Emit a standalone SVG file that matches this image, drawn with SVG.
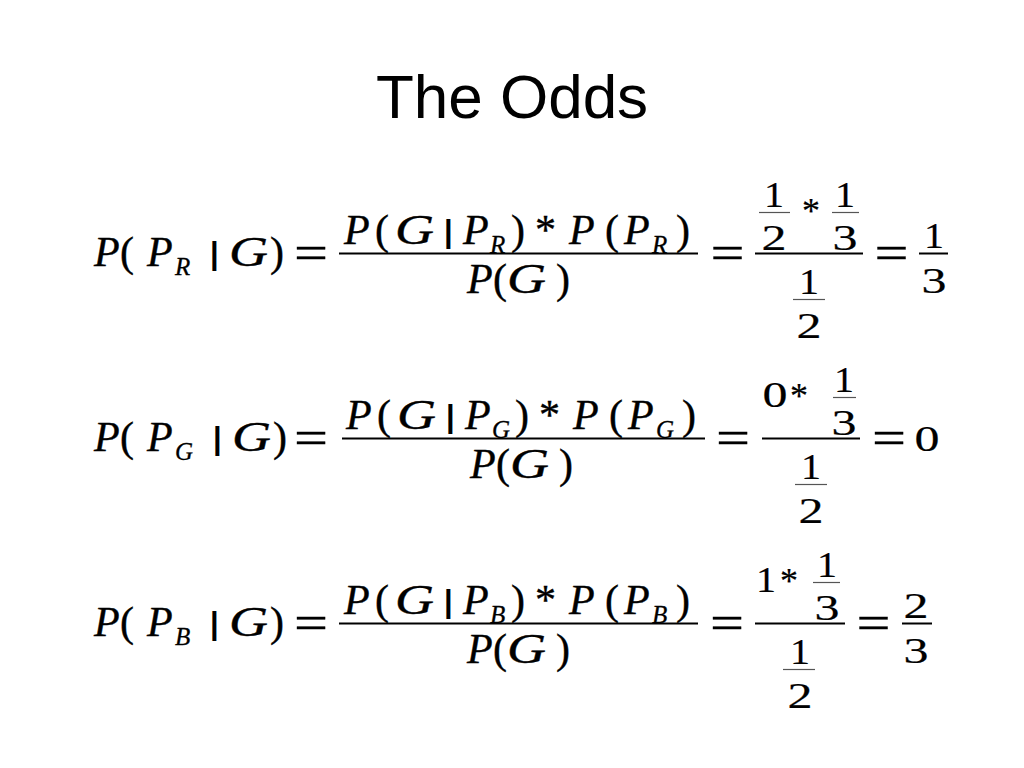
<svg xmlns="http://www.w3.org/2000/svg" width="1024" height="768" viewBox="0 0 1024 768">
<style>
.t{font-family:"Liberation Sans",Arial,sans-serif;font-size:62px;fill:#000}
.i{font-family:"Liberation Serif","Times New Roman",serif;font-style:italic;font-size:42px;fill:#000;stroke:#000;stroke-width:0.4}
.u{font-family:"Liberation Serif","Times New Roman",serif;font-size:42px;fill:#000;stroke:#000;stroke-width:0.4}
.s{font-family:"Liberation Serif","Times New Roman",serif;font-style:italic;font-size:25px;fill:#000;stroke:#000;stroke-width:0.3}
.bar{font-family:"Liberation Sans",Arial,sans-serif;font-size:31px;font-weight:bold;fill:#000}
.d{font-family:"Liberation Serif","Times New Roman",serif;font-size:36px;text-anchor:middle;fill:#000;stroke:#000;stroke-width:0.2}
.e{font-family:"Liberation Serif","Times New Roman",serif;font-size:48px;text-anchor:middle;fill:#000;stroke:#000;stroke-width:0.3}
.m{stroke:#000;stroke-width:2}
.f{stroke:#555;stroke-width:1.2}
</style>
<rect width="1024" height="768" fill="#fff"/>
<text class="t" x="512" y="118" text-anchor="middle">The Odds</text>

<g id="eq-red" transform="translate(0,253.5)">
  <text class="i" x="94" y="12">P</text><text class="u" x="120" y="12">(</text><text class="i" x="147" y="12">P</text><text class="s" x="175" y="21">R</text><text class="bar" x="210" y="10">|</text><text class="i" x="229" y="12" textLength="39" lengthAdjust="spacingAndGlyphs">G</text><text class="u" x="270" y="12">)</text>
  <text class="e" x="311" y="15" textLength="34" lengthAdjust="spacingAndGlyphs">=</text>
  <text class="i" x="344" y="-10">P</text><text class="u" x="375" y="-10">(</text><text class="i" x="395" y="-10" textLength="39" lengthAdjust="spacingAndGlyphs">G</text><text class="bar" x="444" y="-12">|</text><text class="i" x="463" y="-10">P</text><text class="s" x="490" y="-1">R</text><text class="u" x="511" y="-10">)</text><text class="u" x="535" y="-10">*</text><text class="i" x="569" y="-10">P</text><text class="u" x="605" y="-10">(</text><text class="i" x="624" y="-10">P</text><text class="s" x="652" y="-1">R</text><text class="u" x="676" y="-10">)</text>
  <line class="m" x1="339" y1="0" x2="698" y2="0"/>
  <text class="i" x="467" y="39.5">P</text><text class="u" x="493" y="39.5">(</text><text class="i" x="507" y="39.5" textLength="39" lengthAdjust="spacingAndGlyphs">G</text><text class="u" x="556" y="39.5">)</text>
  <text class="e" x="727.5" y="15" textLength="34" lengthAdjust="spacingAndGlyphs">=</text>
  <text class="d" x="774" y="-47" textLength="20" lengthAdjust="spacingAndGlyphs">1</text><line class="f" x1="759" y1="-41" x2="790" y2="-41"/><text class="d" x="774" y="-4" textLength="25" lengthAdjust="spacingAndGlyphs">2</text>
  <text class="d" x="811" y="-31">*</text>
  <text class="d" x="845" y="-47" textLength="20" lengthAdjust="spacingAndGlyphs">1</text><line class="f" x1="832" y1="-41" x2="859" y2="-41"/><text class="d" x="845" y="-4" textLength="25" lengthAdjust="spacingAndGlyphs">3</text>
  <line class="m" x1="755" y1="0" x2="863" y2="0"/>
  <text class="d" x="809" y="40" textLength="20" lengthAdjust="spacingAndGlyphs">1</text><line class="f" x1="793" y1="46" x2="825" y2="46"/><text class="d" x="809" y="84" textLength="25" lengthAdjust="spacingAndGlyphs">2</text>
  <text class="e" x="891.5" y="15" textLength="34" lengthAdjust="spacingAndGlyphs">=</text>
  <text class="d" x="934" y="-6" textLength="20" lengthAdjust="spacingAndGlyphs">1</text><line class="m" x1="919" y1="0" x2="948" y2="0"/><text class="d" x="934" y="39" textLength="25" lengthAdjust="spacingAndGlyphs">3</text>
</g>

<g id="eq-green" transform="translate(0,438.5)">
  <text class="i" x="94" y="12">P</text><text class="u" x="120" y="12">(</text><text class="i" x="147" y="12">P</text><text class="s" x="175" y="21">G</text><text class="bar" x="213" y="10">|</text><text class="i" x="232" y="12" textLength="39" lengthAdjust="spacingAndGlyphs">G</text><text class="u" x="273" y="12">)</text>
  <text class="e" x="311" y="15" textLength="34" lengthAdjust="spacingAndGlyphs">=</text>
  <text class="i" x="346" y="-10">P</text><text class="u" x="377" y="-10">(</text><text class="i" x="397" y="-10" textLength="39" lengthAdjust="spacingAndGlyphs">G</text><text class="bar" x="446" y="-12">|</text><text class="i" x="465" y="-10">P</text><text class="s" x="492" y="-1">G</text><text class="u" x="515" y="-10">)</text><text class="u" x="539" y="-10">*</text><text class="i" x="573" y="-10">P</text><text class="u" x="609" y="-10">(</text><text class="i" x="628" y="-10">P</text><text class="s" x="656" y="-1">G</text><text class="u" x="682" y="-10">)</text>
  <line class="m" x1="342" y1="0" x2="705" y2="0"/>
  <text class="i" x="470" y="39.5">P</text><text class="u" x="496" y="39.5">(</text><text class="i" x="510" y="39.5" textLength="39" lengthAdjust="spacingAndGlyphs">G</text><text class="u" x="559" y="39.5">)</text>
  <text class="e" x="733" y="15" textLength="34" lengthAdjust="spacingAndGlyphs">=</text>
  <text class="d" x="775" y="-32" textLength="25" lengthAdjust="spacingAndGlyphs">0</text>
  <text class="d" x="799" y="-31">*</text>
  <text class="d" x="844" y="-47" textLength="20" lengthAdjust="spacingAndGlyphs">1</text><line class="f" x1="833" y1="-41" x2="856" y2="-41"/><text class="d" x="844" y="-4" textLength="25" lengthAdjust="spacingAndGlyphs">3</text>
  <line class="m" x1="762" y1="0" x2="860" y2="0"/>
  <text class="d" x="811" y="40" textLength="20" lengthAdjust="spacingAndGlyphs">1</text><line class="f" x1="795" y1="46" x2="827" y2="46"/><text class="d" x="811" y="84" textLength="25" lengthAdjust="spacingAndGlyphs">2</text>
  <text class="e" x="889" y="15" textLength="34" lengthAdjust="spacingAndGlyphs">=</text>
  <text class="d" x="927" y="12" textLength="25" lengthAdjust="spacingAndGlyphs">0</text>
</g>

<g id="eq-blue" transform="translate(0,623.5)">
  <text class="i" x="94" y="12">P</text><text class="u" x="120" y="12">(</text><text class="i" x="147" y="12">P</text><text class="s" x="175" y="21">B</text><text class="bar" x="210" y="10">|</text><text class="i" x="229" y="12" textLength="39" lengthAdjust="spacingAndGlyphs">G</text><text class="u" x="270" y="12">)</text>
  <text class="e" x="311" y="15" textLength="34" lengthAdjust="spacingAndGlyphs">=</text>
  <text class="i" x="344" y="-10">P</text><text class="u" x="375" y="-10">(</text><text class="i" x="395" y="-10" textLength="39" lengthAdjust="spacingAndGlyphs">G</text><text class="bar" x="444" y="-12">|</text><text class="i" x="463" y="-10">P</text><text class="s" x="490" y="-1">B</text><text class="u" x="511" y="-10">)</text><text class="u" x="535" y="-10">*</text><text class="i" x="569" y="-10">P</text><text class="u" x="605" y="-10">(</text><text class="i" x="624" y="-10">P</text><text class="s" x="652" y="-1">B</text><text class="u" x="676" y="-10">)</text>
  <line class="m" x1="339" y1="0" x2="698" y2="0"/>
  <text class="i" x="467" y="39.5">P</text><text class="u" x="493" y="39.5">(</text><text class="i" x="507" y="39.5" textLength="39" lengthAdjust="spacingAndGlyphs">G</text><text class="u" x="556" y="39.5">)</text>
  <text class="e" x="727" y="15" textLength="34" lengthAdjust="spacingAndGlyphs">=</text>
  <text class="d" x="766" y="-32" textLength="20" lengthAdjust="spacingAndGlyphs">1</text>
  <text class="d" x="789" y="-31">*</text>
  <text class="d" x="827" y="-47" textLength="20" lengthAdjust="spacingAndGlyphs">1</text><line class="f" x1="813" y1="-41" x2="840" y2="-41"/><text class="d" x="827" y="-4" textLength="25" lengthAdjust="spacingAndGlyphs">3</text>
  <line class="m" x1="755" y1="0" x2="845" y2="0"/>
  <text class="d" x="800" y="40" textLength="20" lengthAdjust="spacingAndGlyphs">1</text><line class="f" x1="783" y1="46" x2="815" y2="46"/><text class="d" x="800" y="84" textLength="25" lengthAdjust="spacingAndGlyphs">2</text>
  <text class="e" x="873.5" y="15" textLength="34" lengthAdjust="spacingAndGlyphs">=</text>
  <text class="d" x="916" y="-6" textLength="25" lengthAdjust="spacingAndGlyphs">2</text><line class="m" x1="902" y1="0" x2="932" y2="0"/><text class="d" x="916" y="39" textLength="25" lengthAdjust="spacingAndGlyphs">3</text>
</g>
</svg>
